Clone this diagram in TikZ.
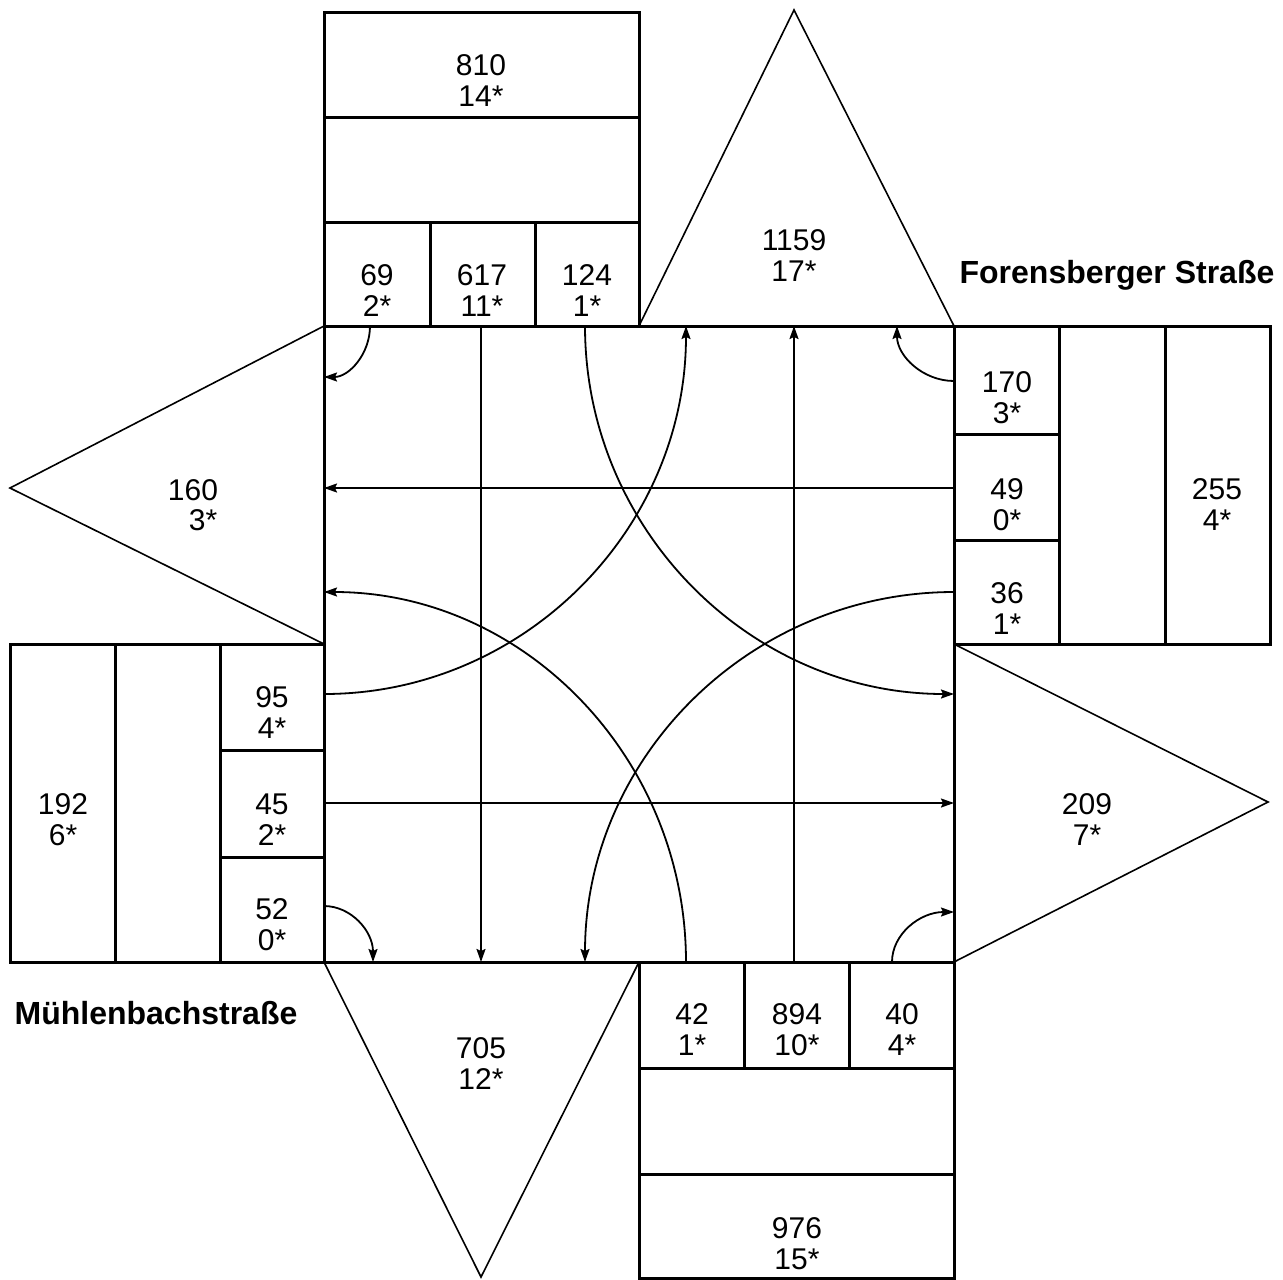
\documentclass[tikz,border=0pt]{standalone}
\usepackage{fontspec}
\setmainfont{Liberation Sans}
\usetikzlibrary{arrows.meta}
\begin{document}
\begin{tikzpicture}[x=1pt,y=-1pt,
  box/.style={draw, line width=3pt},
  tri/.style={draw, line width=1.6pt},
  flow/.style={draw, line width=1.8pt, -{Stealth[length=13pt,width=9pt,inset=2pt]}},
  lbl/.style={font=\fontsize{30}{31}\selectfont, align=center, inner sep=0pt},
  street/.style={font=\fontsize{32}{34}\selectfont\bfseries, inner sep=0pt, anchor=base}]
\useasboundingbox (0,0) rectangle (1283,1280);

% central square
\draw[box] (324,326) rectangle (954,962);

% top stack
\draw[box] (324,12) rectangle (639,117);
\draw[box] (324,117) rectangle (639,222);
\draw[box] (324,222) rectangle (430,326);
\draw[box] (430,222) rectangle (535,326);
\draw[box] (535,222) rectangle (639,326);

% right stack
\draw[box] (954,326) rectangle (1059,434);
\draw[box] (954,434) rectangle (1059,540);
\draw[box] (954,540) rectangle (1059,644);
\draw[box] (1059,326) rectangle (1165,644);
\draw[box] (1165,326) rectangle (1270,644);

% left stack
\draw[box] (10,644) rectangle (115,962);
\draw[box] (115,644) rectangle (220,962);
\draw[box] (220,644) rectangle (324,750);
\draw[box] (220,750) rectangle (324,857);
\draw[box] (220,857) rectangle (324,962);

% bottom stack
\draw[box] (639,962) rectangle (744,1068);
\draw[box] (744,962) rectangle (849,1068);
\draw[box] (849,962) rectangle (954,1068);
\draw[box] (639,1068) rectangle (954,1174);
\draw[box] (639,1174) rectangle (954,1278);

% triangles
\draw[tri] (639,326) -- (794,10) -- (954,326);
\draw[tri] (324,326) -- (10,488) -- (324,644);
\draw[tri] (954,644) -- (1268,802) -- (954,962);
\draw[tri] (324,962) -- (481,1277) -- (639,962);

% labels
\node[lbl] (n810) at (481,81) {810\\14*};
\node[lbl] (n69) at (377,291) {69\\2*};
\node[lbl] (n617) at (482,291) {617\\11*};
\node[lbl] (n124) at (587,291) {124\\1*};
\node[lbl] (n1159) at (794,256) {1159\\17*};
\node[lbl] (n170) at (1007,398) {170\\3*};
\node[lbl] (n49) at (1007,505) {49\\0*};
\node[lbl] (n36) at (1007,609) {36\\1*};
\node[lbl] (n255) at (1217,505) {255\\4*};
\node[lbl] (n160) at (193,490) {160};
\node[lbl] (n160s) at (203,520) {3*};
\node[lbl] (n95) at (272,713) {95\\4*};
\node[lbl] (n45) at (272,820) {45\\2*};
\node[lbl] (n52) at (272,925) {52\\0*};
\node[lbl] (n192) at (63,820) {192\\6*};
\node[lbl] (n209) at (1087,820) {209\\7*};
\node[lbl] (n705) at (481,1064) {705\\12*};
\node[lbl] (n42) at (692,1030) {42\\1*};
\node[lbl] (n894) at (797,1030) {894\\10*};
\node[lbl] (n40) at (902,1030) {40\\4*};
\node[lbl] (n976) at (797,1244) {976\\15*};

\node[street] (forens) at (1117,283) {Forensberger Straße};
\node[street] (muehl) at (156,1024) {Mühlenbachstraße};

% arrow end points
\coordinate (sA) at (481,326); \coordinate (eA) at (481,962);
\coordinate (sB) at (794,962); \coordinate (eB) at (794,326);
\coordinate (sC) at (954,488); \coordinate (eC) at (324,488);
\coordinate (sD) at (324,803); \coordinate (eD) at (954,803);
\coordinate (s1) at (585,326); \coordinate (e1) at (954,694);
\coordinate (s2) at (324,694); \coordinate (e2) at (686,326);
\coordinate (s3) at (954,592); \coordinate (e3) at (585,962);
\coordinate (s4) at (686,962); \coordinate (e4) at (324,592);
\coordinate (t1) at (370,326); \coordinate (u1) at (324,377);
\coordinate (t2) at (954,381); \coordinate (u2) at (897,326);
\coordinate (t3) at (324,906); \coordinate (u3) at (373,962);
\coordinate (t4) at (892,962); \coordinate (u4) at (954,912);

% straight flows
\draw[flow] (sA) -- (eA);
\draw[flow] (sB) -- (eB);
\draw[flow] (sC) -- (eC);
\draw[flow] (sD) -- (eD);

% long turning flows
\draw[flow] (s1) .. controls (585,529) and (750,694) .. (e1);
\draw[flow] (s2) .. controls (524,694) and (686,529) .. (e2);
\draw[flow] (s3) .. controls (750,592) and (585,758) .. (e3);
\draw[flow] (s4) .. controls (686,758) and (524,592) .. (e4);

% short turning flows
\draw[flow] (t1) .. controls (370,354) and (349,377) .. (u1);
\draw[flow] (t2) .. controls (923,381) and (897,356) .. (u2);
\draw[flow] (t3) .. controls (351,906) and (373,931) .. (u3);
\draw[flow] (t4) .. controls (892,934) and (920,912) .. (u4);
\end{tikzpicture}
\end{document}
